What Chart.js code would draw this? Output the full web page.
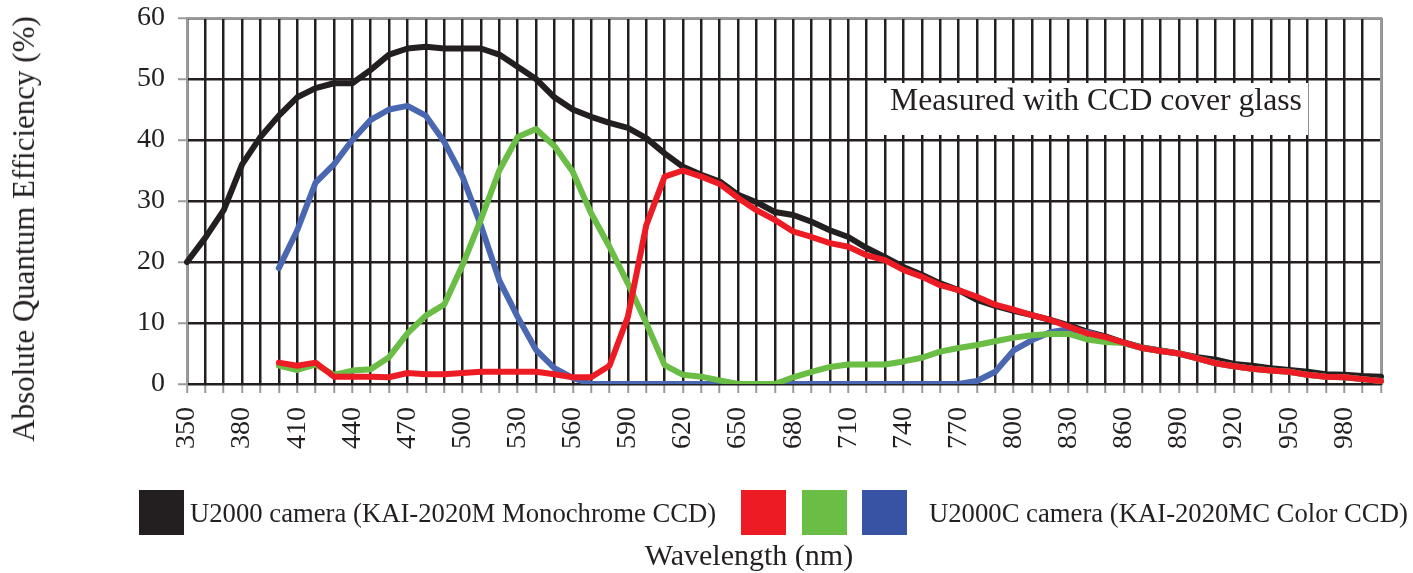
<!DOCTYPE html>
<html lang="en">
<head>
    <meta charset="UTF-8" />
    <title>Absolute Quantum Efficiency</title>
    <script src="https://cdn.jsdelivr.net/npm/chart.js"></script>
    <style>
        body {
            margin: 0;
            background: #fff;
            font-family: "Liberation Serif", "DejaVu Serif", serif;
            color: #231f20;
        }
        .wrap {
            position: relative;
            width: 1413px;
            height: 573px;
        }
        .y-title {
            position: absolute;
            left: 24px;
            top: 229px;
            transform: translate(-50%, -50%) rotate(-90deg);
            font-size: 31px;
            white-space: nowrap;
        }
        .note {
            position: absolute;
            left: 882px;
            top: 83px;
            width: 426px;
            height: 52px;
            box-sizing: border-box;
            padding: 1px 0 0 8px;
            background: #fff;
            font-size: 31.7px;
            line-height: 31px;
            white-space: nowrap;
        }
        .swatch {
            position: absolute;
            top: 490px;
            width: 45px;
            height: 45px;
        }
        .leg-text {
            position: absolute;
            top: 497px;
            font-size: 26.7px;
            line-height: 32px;
            white-space: nowrap;
        }
        .x-title {
            position: absolute;
            left: 749px;
            top: 540px;
            transform: translateX(-50%);
            font-size: 30px;
            line-height: 30px;
            white-space: nowrap;
        }
    </style>
</head>
<body>
<div class="wrap">
    <canvas id="qeChart"></canvas>
    <div class="y-title">Absolute Quantum Efficiency (%)</div>
    <div class="note">Measured with CCD cover glass</div>

    <div class="swatch" style="left:139px;background:#231f20"></div>
    <div class="leg-text" style="left:190px">U2000 camera (KAI-2020M Monochrome CCD)</div>
    <div class="swatch" style="left:741px;background:#ed1c24"></div>
    <div class="swatch" style="left:802px;background:#6abd45"></div>
    <div class="swatch" style="left:862px;background:#3953a4"></div>
    <div class="leg-text" style="left:929px">U2000C camera (KAI-2020MC Color CCD)</div>
    <div class="x-title">Wavelength (nm)</div>
</div>

<script>
// wavelengths 350 .. 1000 nm, step 10
const wavelengths = [
    350, 360, 370, 380, 390, 400, 410, 420, 430, 440,
    450, 460, 470, 480, 490, 500, 510, 520, 530, 540,
    550, 560, 570, 580, 590, 600, 610, 620, 630, 640,
    650, 660, 670, 680, 690, 700, 710, 720, 730, 740,
    750, 760, 770, 780, 790, 800, 810, 820, 830, 840,
    850, 860, 870, 880, 890, 900, 910, 920, 930, 940,
    950, 960, 970, 980, 990, 1000
];

// U2000 mono
const monoQE = [
    20, 24, 28.5, 36, 40.5, 44, 47, 48.5, 49.3, 49.3,
    51.5, 54, 55, 55.3, 55, 55, 55, 54, 52, 50,
    47, 45, 43.8, 42.8, 42, 40.3, 37.8, 35.6, 34.3, 33.2,
    31, 29.8, 28.2, 27.7, 26.6, 25.2, 24.1, 22.3, 20.8, 19.2,
    17.9, 16.5, 15.4, 13.8, 12.8, 12, 11.3, 10.5, 9.6, 8.6,
    7.8, 6.8, 6, 5.5, 5, 4.4, 4, 3.3, 3, 2.6,
    2.3, 2, 1.6, 1.5, 1.3, 1.2
];

// U2000C colour channels
const redQE = [
    null, null, null, null, null, 3.5, 3, 3.5, 1.2, 1.2,
    1.2, 1.1, 1.8, 1.6, 1.6, 1.8, 2, 2, 2, 2,
    1.6, 1.1, 1.1, 3, 11, 26, 34, 35, 34, 32.8,
    30.5, 28.5, 26.9, 25, 24.1, 23.1, 22.5, 21.1, 20.3, 18.7,
    17.6, 16.2, 15.4, 14.3, 13, 12.2, 11.3, 10.5, 9.4, 8.3,
    7.7, 6.8, 5.9, 5.4, 5, 4.2, 3.4, 2.9, 2.5, 2.2,
    2, 1.5, 1.2, 1.1, 0.8, 0.5
];
const greenQE = [
    null, null, null, null, null, 3, 2.3, 3.2, 1.5, 2.2,
    2.4, 4.4, 8.3, 11.2, 13, 19.5, 27, 35, 40.5, 41.8,
    39, 34.8, 28, 22.5, 16.5, 10, 3.1, 1.5, 1.2, 0.6,
    0, 0, 0, 1.1, 2, 2.8, 3.2, 3.2, 3.2, 3.7,
    4.3, 5.3, 5.9, 6.4, 7, 7.6, 8, 8.2, 8.2, 7.3,
    6.9, 6.7, 5.9, 5.4, 5, 4.2, 3.4, 2.9, 2.5, 2.2,
    2, 1.5, 1.2, 1.1, 0.8, 0.5
];
const blueQE = [
    null, null, null, null, null, 19, 25.2, 33, 36, 40,
    43.3, 45, 45.6, 44, 39.7, 34, 26, 17, 11, 5.6,
    2.6, 1, 0, 0, 0, 0, 0, 0, 0, 0,
    0, 0, 0, 0, 0, 0, 0, 0, 0, 0,
    0, 0, 0, 0.5, 2, 5.5, 7.2, 8.5, 9, 8.5,
    7.6, 6.7, 5.9, 5.4, 5, 4.2, 3.4, 2.9, 2.5, 2.2,
    2, 1.5, 1.2, 1.1, 0.8, 0.5
];

const yTicks = [0, 10, 20, 30, 40, 50, 60];

const ink = '#231f20';
const frame = '#9a9a9a';
const tickFont = { family: 'Liberation Serif', size: 28 };

// gray frame on left, top and right of the plot
const framePlugin = {
    id: 'frame',
    beforeDatasetsDraw(chart) {
        const { ctx, chartArea: a } = chart;
        ctx.save();
        ctx.strokeStyle = frame;
        ctx.lineWidth = 2;
        ctx.beginPath();
        ctx.moveTo(a.left, a.bottom);
        ctx.lineTo(a.left, a.top);
        ctx.lineTo(a.right, a.top);
        ctx.lineTo(a.right, a.bottom);
        ctx.stroke();
        ctx.restore();
    }
};

function line(data, color) {
    return {
        data: data,
        borderColor: color,
        backgroundColor: color,
        borderWidth: 6,
        pointRadius: 0,
        tension: 0,
        fill: false,
        borderJoinStyle: 'round',
        borderCapStyle: 'round'
    };
}

new Chart(document.getElementById('qeChart'), {
    type: 'line',
    data: {
        labels: wavelengths,
        // first dataset is painted last (on top)
        datasets: [
            line(redQE, '#ed1c24'),
            line(greenQE, '#6abd45'),
            line(blueQE, '#4a67b1'),
            line(monoQE, ink)
        ]
    },
    options: {
        responsive: true,
        maintainAspectRatio: false,
        animation: false,
        layout: { padding: { top: 18, right: 32, left: 0, bottom: 0 } },
        plugins: {
            legend: { display: false },
            tooltip: { enabled: false }
        },
        scales: {
            x: {
                type: 'category',
                offset: false,
                grid: { color: ink, lineWidth: 2.5, tickLength: 9, tickColor: frame, tickWidth: 2 },
                border: { color: ink, width: 2 },
                ticks: {
                    autoSkip: false,
                    minRotation: 90,
                    maxRotation: 90,
                    padding: 14,
                    color: ink,
                    font: tickFont,
                    callback: function (v, i) {
                        const w = wavelengths[i];
                        return (w - 350) % 30 === 0 ? String(w) : '';
                    }
                },
                afterFit: s => {
                    s.height = 189;
                    s.paddingLeft = 0;
                    s.paddingRight = 0;
                }
            },
            y: {
                min: yTicks[0],
                max: yTicks[yTicks.length - 1],
                afterBuildTicks: s => { s.ticks = yTicks.map(v => ({ value: v })); },
                grid: { color: ink, lineWidth: 2.5, tickLength: 9, tickColor: frame, tickWidth: 2 },
                border: { color: frame, width: 2 },
                ticks: { padding: 13, color: ink, font: tickFont },
                afterFit: s => {
                    s.width = 187;
                    s.paddingTop = 0;
                    s.paddingBottom = 0;
                }
            }
        }
    },
    plugins: [framePlugin]
});
</script>
</body>
</html>
